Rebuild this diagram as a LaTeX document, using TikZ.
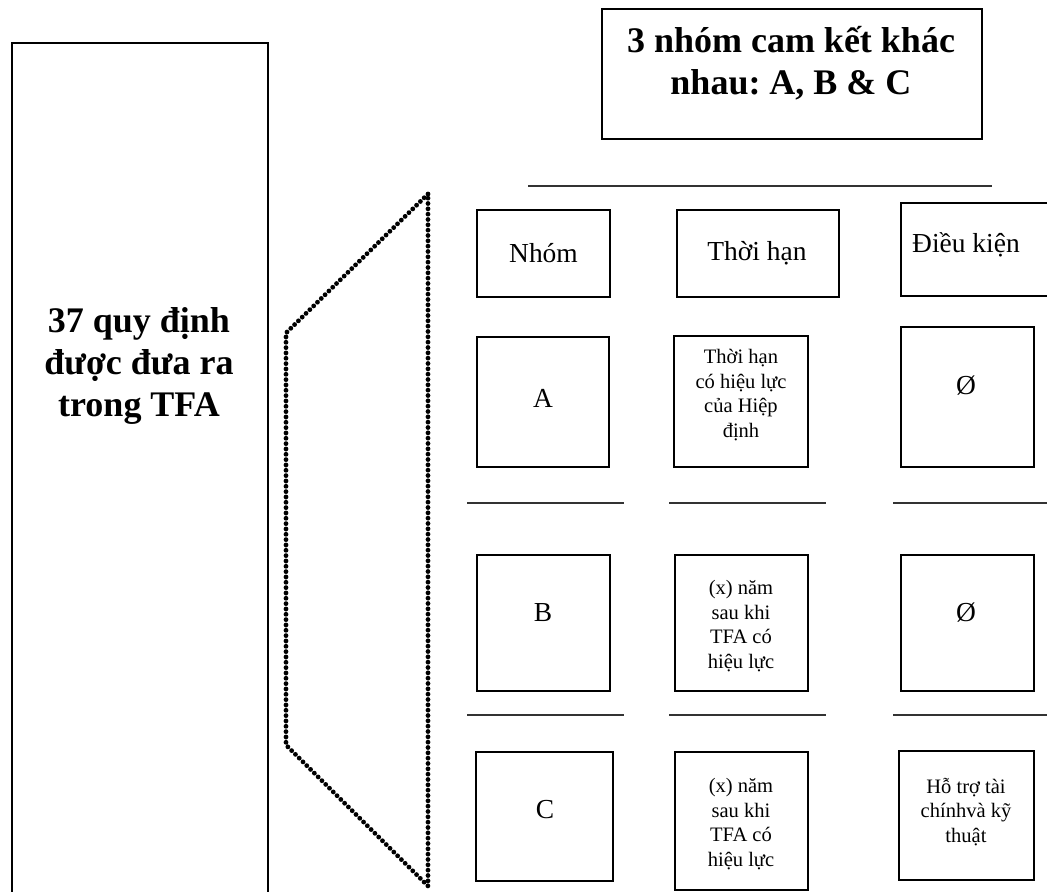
\documentclass[tikz,border=0pt]{standalone}
\usepackage{fontspec}
\setmainfont{Liberation Serif}
\usetikzlibrary{fit}
\frenchspacing
\begin{document}
\begin{tikzpicture}[x=0.75pt,y=-0.75pt,
 box/.style={draw, line width=1.1pt, inner sep=0pt},
 sepline/.style={draw=black!80, line width=1.4pt},
 bigtxt/.style={font=\bfseries\fontsize{27}{31.5}\selectfont, align=center, inner sep=0pt},
 midtxt/.style={font=\fontsize{20.6}{24}\selectfont, align=center, inner sep=0pt},
 smalltxt/.style={font=\fontsize{15.4}{18.4}\selectfont, align=center, inner sep=0pt},
 dotline/.style={line width=3.6pt, line cap=round, dash pattern=on 0pt off 4pt}]
\useasboundingbox (0,0) rectangle (1047,892);
\clip (0,0) rectangle (1047,892);
% left big box
\node[box, fit={(12,43)(268,920)}] (left) {};
\node[bigtxt] (lefttxt) at (139,366) {37 quy định\\được đưa ra\\trong TFA};
% title
\node[box, fit={(602,9)(982,139)}] (title) {};
\node[bigtxt] (titletxt) at (791,63) {3 nhóm cam kết khác\\nhau: A, B \& C};
% top line
\coordinate (tl1) at (528,186);
\coordinate (tl2) at (992,186);
\draw[sepline] (tl1) -- (tl2);
% dotted trapezoid
\coordinate (t1) at (428,194);
\coordinate (t2) at (286,333);
\coordinate (t3) at (286,745);
\coordinate (t4) at (428,886);
\draw[dotline] (t1) -- (t2) -- (t3) -- (t4) -- cycle;
% headers
\node[box, fit={(477,210)(610,297)}] (hN) {};
\node[midtxt] (hNt) at (hN.center) {Nhóm};
\node[box, fit={(677,210)(839,297)}] (hT) {};
\node[midtxt] (hTt) at (757,253) {Thời hạn};
\node[box, fit={(901,203)(1060,296)}] (hD) {};
\node[midtxt] (hDt) at (966,245) {Điều kiện};
% row A
\node[box, fit={(477,337)(609,467)}] (a1) {};
\node[midtxt] (a1t) at (543,398) {A};
\node[box, fit={(674,336)(808,467)}] (a2) {};
\node[smalltxt] (a2t) at (741,395) {Thời hạn\\có hiệu lực\\của Hiệp\\định};
\node[box, fit={(901,327)(1034,467)}] (a3) {};
\node[midtxt] (a3t) at (966,386) {Ø};
% separators
\coordinate (s1a) at (467,503); \coordinate (s1b) at (624,503);
\coordinate (s2a) at (669,503); \coordinate (s2b) at (826,503);
\coordinate (s3a) at (893,503); \coordinate (s3b) at (1052,503);
\draw[sepline] (s1a) -- (s1b);
\draw[sepline] (s2a) -- (s2b);
\draw[sepline] (s3a) -- (s3b);
% row B
\node[box, fit={(477,555)(610,691)}] (b1) {};
\node[midtxt] (b1t) at (543,613) {B};
\node[box, fit={(675,555)(808,691)}] (b2) {};
\node[smalltxt] (b2t) at (741,626) {(x) năm\\sau khi\\TFA có\\hiệu lực};
\node[box, fit={(901,555)(1034,691)}] (b3) {};
\node[midtxt] (b3t) at (966,613) {Ø};
% separators
\coordinate (r1a) at (467,715); \coordinate (r1b) at (624,715);
\coordinate (r2a) at (669,715); \coordinate (r2b) at (826,715);
\coordinate (r3a) at (893,715); \coordinate (r3b) at (1052,715);
\draw[sepline] (r1a) -- (r1b);
\draw[sepline] (r2a) -- (r2b);
\draw[sepline] (r3a) -- (r3b);
% row C
\node[box, fit={(476,752)(613,881)}] (c1) {};
\node[midtxt] (c1t) at (545,810) {C};
\node[box, fit={(675,752)(808,890)}] (c2) {};
\node[smalltxt] (c2t) at (741,824) {(x) năm\\sau khi\\TFA có\\hiệu lực};
\node[box, fit={(899,751)(1034,880)}] (c3) {};
\node[smalltxt] (c3t) at (966,812) {Hỗ trợ tài\\chínhvà kỹ\\thuật};
\end{tikzpicture}
\end{document}
